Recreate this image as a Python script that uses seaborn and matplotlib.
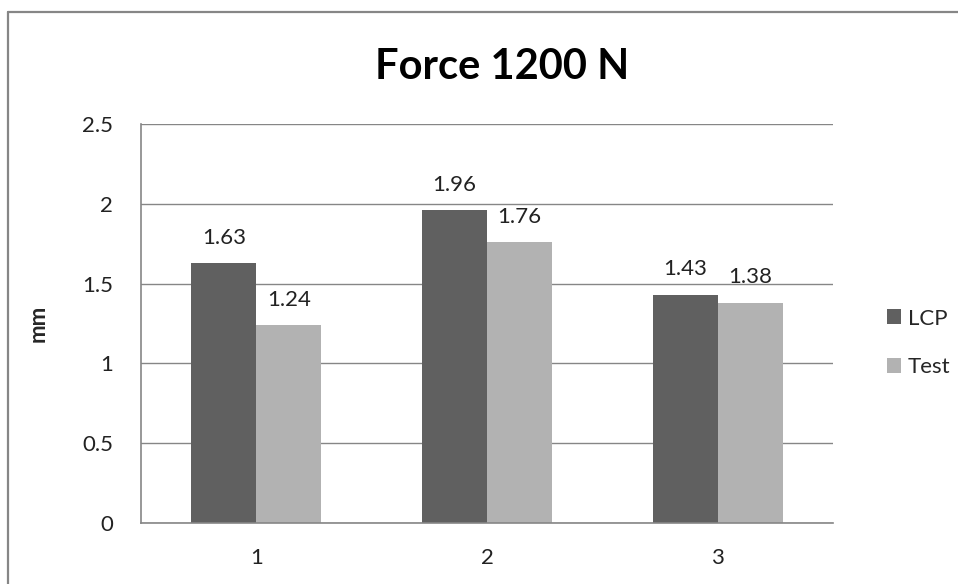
import matplotlib
matplotlib.use("Agg")
import matplotlib.pyplot as plt
from matplotlib.lines import Line2D
import seaborn as sns
import pandas as pd

categories = ["1", "2", "3"]
lcp_values = [1.63, 1.96, 1.43]
test_values = [1.24, 1.76, 1.38]
series_names = ["LCP", "Test"]
y_ticks = [0, 0.5, 1, 1.5, 2, 2.5]
y_tick_labels = ["0", "0.5", "1", "1.5", "2", "2.5"]

df = pd.DataFrame({
    "group": categories * 2,
    "series": [series_names[0]] * 3 + [series_names[1]] * 3,
    "value": lcp_values + test_values,
})

sns.set_theme(style="white")
plt.rcParams["font.family"] = ["Lato", "DejaVu Sans"]

fig = plt.figure(figsize=(9.58, 5.84), dpi=100)
ax = fig.add_axes([141 / 958, 61 / 584, 692 / 958, 399 / 584])

palette = {"LCP": "#606060", "Test": "#b2b2b2"}
sns.barplot(data=df, x="group", y="value", hue="series", order=categories,
            hue_order=series_names, palette=palette, width=0.565, gap=0,
            saturation=1, edgecolor="none", linewidth=0, ax=ax)

for container in ax.containers:
    ax.bar_label(container, labels=[f"{v:.2f}" for v in container.datavalues],
                 padding=11, fontsize=16, color="#222222")

ax.set_ylim(0, 2.5)
ax.set_yticks(y_ticks)
ax.set_yticklabels(y_tick_labels)
ax.set_xlim(-0.5, 2.5)
ax.yaxis.grid(True, color="#868686", linewidth=1)
ax.set_axisbelow(True)
for side in ["top", "right"]:
    ax.spines[side].set_visible(False)
for side in ["left", "bottom"]:
    ax.spines[side].set_color("#868686")
    ax.spines[side].set_linewidth(1.2)
ax.tick_params(axis="both", length=0, labelsize=16, colors="#222222")
ax.tick_params(axis="y", pad=20)
ax.tick_params(axis="x", pad=18)
ax.set_xlabel("")
ax.set_ylabel("mm", fontsize=16, fontweight="bold", labelpad=24)

handles, labels = ax.get_legend_handles_labels()
leg = ax.legend(handles, labels, loc="center left", bbox_to_anchor=(1.049, 0.451),
                frameon=False, fontsize=16, handlelength=0.65, handleheight=0.65,
                handletextpad=0.3, labelspacing=1.3)

fig.text(502 / 958, 1 - 67 / 584, "Force 1200 N", ha="center", va="center",
         fontsize=30, fontweight="bold", color="black")

# chart frame (top and left edges)
fig.add_artist(Line2D([8 / 958, 1.0], [1 - 12 / 584, 1 - 12 / 584],
                      transform=fig.transFigure, color="#868686", linewidth=1.6))
fig.add_artist(Line2D([8 / 958, 8 / 958], [0.0, 1 - 12 / 584],
                      transform=fig.transFigure, color="#868686", linewidth=1.6))

fig.savefig("out.png", dpi=100)
